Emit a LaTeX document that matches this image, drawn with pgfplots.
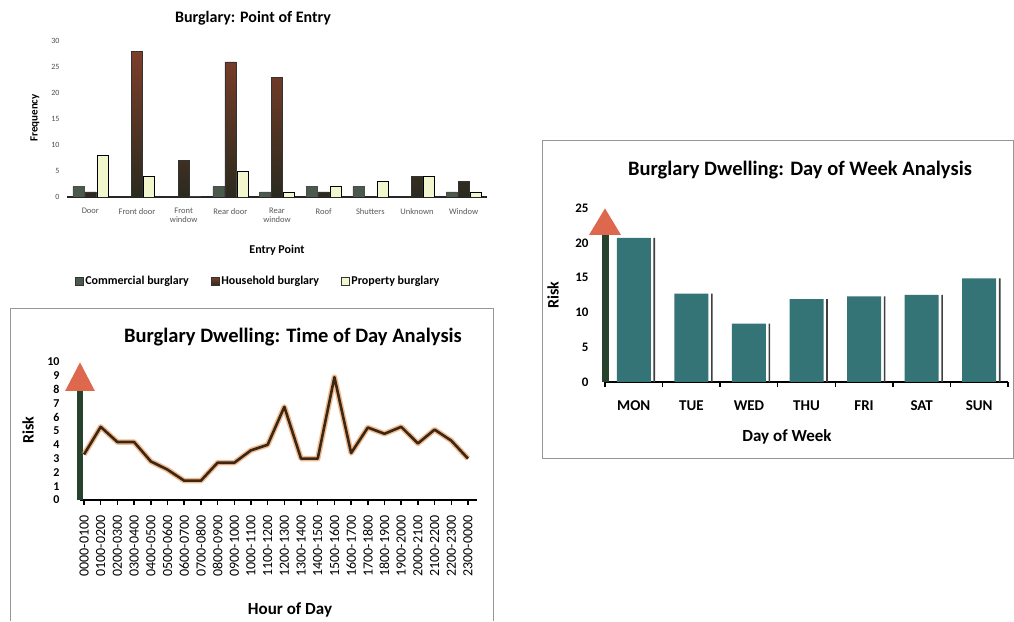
\documentclass[border=0pt]{standalone}
\usepackage{fontspec}
\setmainfont{Carlito}
\usepackage{pgfplots}
\pgfplotsset{compat=1.18}
\usetikzlibrary{arrows.meta}
\definecolor{comm}{RGB}{74,90,76}
\definecolor{houseTop}{RGB}{125,62,42}
\definecolor{houseBot}{RGB}{42,42,30}
\definecolor{prop}{RGB}{242,246,205}
\definecolor{tealA}{RGB}{52,116,118}
\definecolor{tealB}{RGB}{84,144,144}
\definecolor{arrowRed}{RGB}{222,104,78}
\definecolor{shaft}{RGB}{38,66,44}
\definecolor{lineDark}{RGB}{58,40,20}
\definecolor{lineGlow}{RGB}{236,140,70}
\definecolor{boxgray}{RGB}{150,150,150}

\pgfplotstableread{
x y
0 3.3
1 5.3
2 4.2
3 4.2
4 2.8
5 2.2
6 1.4
7 1.4
8 2.7
9 2.7
10 3.6
11 4.0
12 6.75
13 3.0
14 3.0
15 8.9
16 3.4
17 5.25
18 4.8
19 5.3
20 4.1
21 5.1
22 4.3
23 3.0
}\hourdata

\pgfplotstableread{
x y
0 20.7
1 12.7
2 8.4
3 11.9
4 12.3
5 12.5
6 14.9
}\daydata

\begin{document}
\begin{tikzpicture}[x=1pt,y=1pt]
\useasboundingbox (0,0) rectangle (1014,621);
\fill[white] (0,0) rectangle (1014,621);
\draw[boxgray, line width=0.8pt] (10,0) -- (10,313) -- (493,313) -- (493,0);
\draw[boxgray, line width=0.8pt] (542,163) rectangle (1013,481);

% ---------- Chart 1: Point of Entry ----------
\begin{axis}[
  at={(67pt,424pt)}, anchor=south west, scale only axis,
  width=420pt, height=156pt,
  ybar=1pt, bar width=11pt,
  xmin=-0.5, xmax=8.5, ymin=0, ymax=30,
  ytick={0,5,...,30},
  xtick={0,...,8},
  xticklabels={Door,Front door,{Front\\window},Rear door,{Rear\\window},Roof,Shutters,Unknown,Window},
  xticklabel style={font=\fontsize{8.5}{9}\selectfont, text=black!65, align=center, yshift=-8pt},
  yticklabel style={font=\fontsize{8}{8}\selectfont, text=black!70, xshift=-4pt},
  /pgf/number format/assume math mode=true,
  axis x line*=bottom, axis y line*=left,
  y axis line style={draw=none},
  x axis line style={line width=1.2pt, black!85},
  major tick length=0pt,
  legend columns=3,
  legend style={draw=none, fill=none, at={(0.455,-0.54)}, anchor=center,
     font=\bfseries\fontsize{12}{13}\selectfont,
     /tikz/every even column/.append style={column sep=20pt}},
  legend image code/.code={\draw[#1, draw=black!80] (0pt,-4pt) rectangle (8pt,4pt);},
]
\addplot[fill=comm, draw=black!70] coordinates {(0,2)(1,0)(2,0)(3,2)(4,1)(5,2)(6,2)(7,0)(8,1)};
\addplot[top color=houseTop, bottom color=houseBot, draw=black!80] coordinates {(0,1)(1,28)(2,7)(3,26)(4,23)(5,1)(6,0)(7,4)(8,3)};
\addplot[fill=prop, draw=black] coordinates {(0,8)(1,4)(2,0)(3,5)(4,1)(5,2)(6,3)(7,4)(8,1)};
\legend{Commercial burglary, Household burglary, Property burglary}
\end{axis}
\node[font=\bfseries\fontsize{16}{16}\selectfont] at (253,603) {Burglary: Point of Entry};
\node[rotate=90, font=\bfseries\fontsize{11}{11}\selectfont] at (35,503) {Frequency};
\node[font=\bfseries\fontsize{12}{12}\selectfont] at (277,371) {Entry Point};

% ---------- Chart 2: Time of Day ----------
\begin{axis}[
  at={(80pt,121pt)}, anchor=south west, scale only axis,
  width=397pt, height=138pt,
  xmin=-0.24, xmax=23.54, ymin=0, ymax=10,
  ytick={0,...,10},
  xtick={0,...,23},
  xticklabels={0000-0100,0100-0200,0200-0300,0300-0400,0400-0500,0500-0600,0600-0700,0700-0800,0800-0900,0900-1000,1000-1100,1100-1200,1200-1300,1300-1400,1400-1500,1500-1600,1600-1700,1700-1800,1800-1900,1900-2000,2000-2100,2100-2200,2200-2300,2300-0000},
  xticklabel style={rotate=90, anchor=east, font=\fontsize{14}{14}\selectfont},
  xticklabel shift=7pt,
  yticklabel style={font=\bfseries\fontsize{12}{12}\selectfont},
  yticklabel shift=12pt,
  /pgf/number format/assume math mode=true,
  axis x line*=bottom, axis y line*=left,
  x axis line style={line width=2pt, black},
  y axis line style={line width=6pt, shaft, -{Triangle[length=29pt,width=28pt,fill=arrowRed,color=arrowRed]}},
  xtick style={line width=1.5pt, black},
  ytick style={draw=none},
  tick align=outside, major tick length=5pt,
  clip=false,
]
\addplot[lineGlow, line width=5.5pt, opacity=0.6, line join=round] table[x=x,y=y] {\hourdata};
\addplot[lineDark, line width=2.6pt, line join=round] table[x=x,y=y] {\hourdata};
\end{axis}
\node[font=\bfseries\fontsize{20.5}{20.5}\selectfont] at (293,284) {Burglary Dwelling: Time of Day Analysis};
\node[rotate=90, font=\bfseries\fontsize{16}{16}\selectfont] at (28,191) {Risk};
\node[font=\bfseries\fontsize{17}{17}\selectfont] at (290,11) {Hour of Day};

% ---------- Chart 3: Day of Week ----------
\begin{axis}[
  at={(605pt,239pt)}, anchor=south west, scale only axis,
  width=403pt, height=174pt,
  xmin=-0.5, xmax=6.5, ymin=0, ymax=25,
  ytick={0,5,...,25},
  xtick={0,...,6},
  xticklabels={MON,TUE,WED,THU,FRI,SAT,SUN},
  minor xtick={-0.5,0.5,...,6.5},
  xticklabel style={font=\bfseries\fontsize{15}{15}\selectfont, yshift=-15pt},
  yticklabel style={font=\bfseries\fontsize{13}{13}\selectfont, xshift=-13pt},
  /pgf/number format/assume math mode=true,
  axis x line*=bottom, axis y line*=left,
  x axis line style={line width=2.5pt, black},
  y axis line style={line width=7pt, shaft, -{Triangle[length=27pt,width=30pt,fill=arrowRed,color=arrowRed]}},
  major tick length=0pt, minor tick length=5pt, tick align=outside,
  minor tick style={line width=1.5pt, black},
  clip=false,
]
\addplot[ybar, bar width=34pt, bar shift=0pt, draw=none, left color=tealA, middle color=tealB, right color=tealA] table[x=x,y=y] {\daydata};
\addplot[ybar, bar width=1.6pt, bar shift=20.5pt, draw=none, fill=black!75] table[x=x,y=y] {\daydata};
\end{axis}
\node[font=\bfseries\fontsize{20.5}{20.5}\selectfont] at (800,451) {Burglary Dwelling: Day of Week Analysis};
\node[rotate=90, font=\bfseries\fontsize{16}{16}\selectfont] at (553,326) {Risk};
\node[font=\bfseries\fontsize{17}{17}\selectfont] at (787,184) {Day of Week};
\end{tikzpicture}
\end{document}
